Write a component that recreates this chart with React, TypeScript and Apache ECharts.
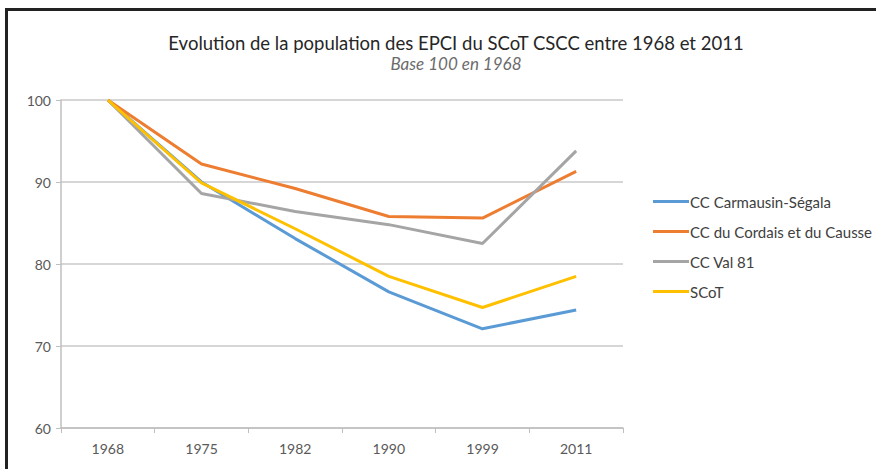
import React, { useEffect, useRef } from "react";
import * as echarts from "echarts";

const years = ["1968", "1975", "1982", "1990", "1999", "2011"];
const carmausin = [100, 90.0, 83.1, 76.6, 72.1, 74.4];
const cordais = [100, 92.2, 89.2, 85.8, 85.6, 91.3];
const val81 = [100, 88.6, 86.4, 84.8, 82.5, 93.8];
const scot = [100, 89.9, 84.3, 78.5, 74.7, 78.5];
const seriesNames = ["CC Carmausin-Ségala", "CC du Cordais et du Causse", "CC Val 81", "SCoT"];
const colors = ["#5B9BD5", "#ED7D31", "#A5A5A5", "#FFC000"];

const FONT = "Lato, 'Open Sans', sans-serif";

export default function App() {
  const ref = useRef<HTMLDivElement>(null);
  useEffect(() => {
    if (!ref.current) return;
    const chart = echarts.init(ref.current, null, { renderer: "svg" });
    const data = [carmausin, cordais, val81, scot];
    chart.setOption({
      animation: false,
      backgroundColor: "#ffffff",
      textStyle: { fontFamily: FONT },
      title: {
        text: "Evolution de la population des EPCI du SCoT CSCC entre 1968 et 2011",
        subtext: "Base 100 en 1968",
        left: 451,
        textAlign: "center",
        top: 28,
        itemGap: 3,
        textStyle: { fontFamily: FONT, fontSize: 18.5, fontWeight: "normal", color: "#262626" },
        subtextStyle: { fontFamily: FONT, fontSize: 17, fontStyle: "italic", color: "#6b6b6b" },
      },
      legend: {
        orient: "vertical",
        left: 648,
        top: 189,
        itemWidth: 36,
        itemHeight: 3,
        itemGap: 15,
        icon: "rect",
        textStyle: { fontFamily: FONT, fontSize: 15, color: "#404040", padding: [0, 0, 0, -4] },
        data: seriesNames,
      },
      grid: { left: 61, right: 253, top: 100, bottom: 41, containLabel: false },
      xAxis: {
        type: "category",
        data: years,
        boundaryGap: true,
        axisLine: { lineStyle: { color: "#BFBFBF", width: 1.5 } },
        axisTick: { show: true, length: 5, lineStyle: { color: "#BFBFBF" } },
        axisLabel: { fontFamily: FONT, fontSize: 14, color: "#595959", margin: 13 },
      },
      yAxis: {
        type: "value",
        min: 60,
        max: 100,
        interval: 10,
        axisLine: { show: true, lineStyle: { color: "#BFBFBF", width: 1.5 } },
        axisTick: { show: true, length: 5, lineStyle: { color: "#BFBFBF" } },
        axisLabel: { fontFamily: FONT, fontSize: 14, color: "#595959", margin: 10 },
        splitLine: { lineStyle: { color: "#C8C8C8", width: 1.5 } },
      },
      series: seriesNames.map((name, i) => ({
        name,
        type: "line",
        data: data[i],
        symbol: "none",
        color: colors[i],
        lineStyle: { width: 3, color: colors[i] },
      })),
      graphic: [
        { type: "line", shape: { x1: 5, y1: 9.5, x2: 876, y2: 9.5 }, style: { stroke: "#222222", lineWidth: 3 } },
        { type: "line", shape: { x1: 6.5, y1: 8, x2: 6.5, y2: 469 }, style: { stroke: "#222222", lineWidth: 3 } },
      ],
    });
    return () => chart.dispose();
  }, []);
  return <div ref={ref} style={{ position: "absolute", left: 0, top: 0, width: 876, height: 469 }} />;
}
